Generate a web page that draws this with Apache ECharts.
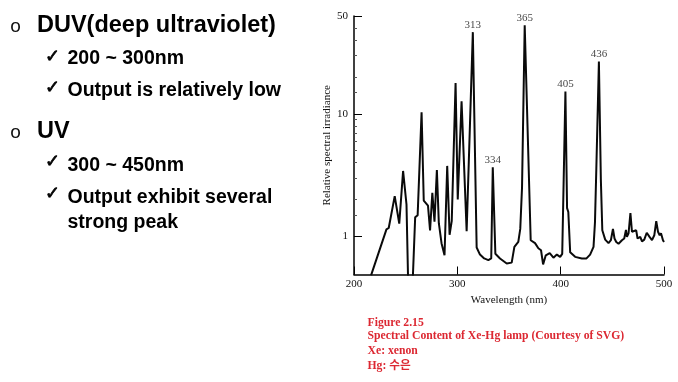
<!DOCTYPE html>
<html><head><meta charset="utf-8">
<script src="https://cdn.jsdelivr.net/npm/echarts@6/dist/echarts.min.js"></script>
<style>html,body{margin:0;padding:0;background:#fff}#c{width:678px;height:382px}</style>
</head><body><div id="c"></div>
<script>
// Spectrum of Xe-Hg lamp
const wavelengths = [216.5, 231.4, 233.6, 239.4, 243.8, 247.5, 250.8, 252.6, 256.4, 259.2, 261.6, 265.4, 267.5, 271.6, 273.6, 275.8, 277.9, 280.2, 282.1, 284.7, 287.6, 290.2, 292.5, 294.6, 298.3, 300.4, 304.1, 309.0, 315.0, 318.7, 321.9, 326.0, 330.0, 332.8, 334.3, 336.8, 341.3, 347.8, 352.6, 355.2, 359.0, 360.9, 362.6, 365.2, 371.0, 375.2, 378.4, 381.0, 383.0, 385.6, 389.4, 393.0, 396.3, 399.5, 401.5, 404.6, 406.2, 407.4, 409.2, 414.0, 420.5, 425.0, 428.5, 431.8, 433.2, 434.4, 437.0, 438.9, 440.3, 443.1, 446.3, 448.6, 450.6, 452.1, 453.8, 456.0, 459.3, 461.5, 463.2, 464.1, 465.7, 467.5, 469.0, 470.5, 473.1, 474.4, 477.0, 478.7, 480.9, 483.3, 486.0, 488.4, 490.6, 492.5, 494.2, 495.8, 497.1, 499.0, 500.0];
const irradiance  = [0.48, 1.14, 1.17, 2.13, 1.27, 3.42, 1.82, 0.35, 0.35, 1.43, 1.49, 10.3, 1.96, 1.78, 1.12, 2.27, 1.32, 3.48, 1.28, 0.88, 0.70, 3.76, 1.03, 1.34, 17.9, 2.0, 12.7, 1.10, 46.5, 0.81, 0.71, 0.66, 0.64, 0.66, 3.66, 0.72, 0.66, 0.60, 0.61, 0.82, 0.90, 1.15, 2.5, 53.0, 0.93, 0.88, 0.80, 0.77, 0.59, 0.70, 0.73, 0.67, 0.71, 0.68, 0.72, 15.2, 1.70, 1.58, 0.74, 0.68, 0.66, 0.66, 0.71, 0.82, 1.3, 3.27, 26.8, 2.9, 1.12, 0.94, 0.88, 0.93, 1.15, 0.96, 0.90, 0.87, 0.93, 0.96, 1.13, 0.99, 1.06, 1.55, 1.09, 1.06, 1.12, 0.96, 0.99, 0.91, 0.94, 1.07, 0.99, 0.93, 1.02, 1.33, 1.09, 1.02, 1.06, 0.93, 0.90];

const peakWavelengths = [315.0, 334.3, 365.2, 404.6, 437.0];
const peakValues = [46.5, 3.66, 53.0, 15.2, 26.8];
const peakLabels = ['313', '334', '365', '405', '436'];

const xMin = 200, xMax = 500, xStep = 100;
const yMin = 0.488, yMax = 63;
const yMajorTicks = [1, 10, 63];
const yMajorLabels = ['1', '10', '50'];
const yMinorTicks = [1.5, 2, 3, 4, 5, 6, 7, 8, 9, 15, 20, 30, 40, 50];

const xName = 'Wavelength (nm)';
const yName = 'Relative spectral irradiance';

const bulletItems = ['DUV(deep ultraviolet)', 'UV'];
const subItems = ['200 ~ 300nm', 'Output is relatively low', '300 ~ 450nm', 'Output exhibit several', 'strong peak'];
const captionLines = ['Figure 2.15', 'Spectral Content of Xe-Hg lamp (Courtesy of SVG)', 'Xe: xenon', 'Hg: 수은'];

const serif = '"Liberation Serif", "Times New Roman", serif';
const sans = '"Liberation Sans", Arial, sans-serif';

const chart = echarts.init(document.getElementById('c'), null, {renderer: 'canvas'});

function majorLabel(v) {
  for (let i = 0; i < yMajorTicks.length; i++) {
    if (Math.abs(Math.log10(v) - Math.log10(yMajorTicks[i])) < 0.01) return yMajorLabels[i];
  }
  return '';
}

const graphics = [];
// slide bullets
const bulletY = [26.5, 132.5];
const titleY = [26, 132];
bulletItems.forEach((t, i) => {
  graphics.push({type: 'text', x: 15.5, y: bulletY[i], style: {text: 'o', font: '19px ' + sans, fill: '#111', align: 'center', verticalAlign: 'middle'}});
  graphics.push({type: 'text', x: 37, y: titleY[i], style: {text: t, font: 'bold 23.5px ' + sans, fill: '#000', align: 'left', verticalAlign: 'middle'}});
});
const subY = [59, 90.7, 165.7, 197.3, 222.3];
const checkY = [57.5, 88.5, 162, 194, null];
subItems.forEach((t, i) => {
  if (checkY[i] !== null) {
    graphics.push({type: 'text', x: 52.5, y: checkY[i], style: {text: '✓', font: '18px "DejaVu Sans", sans-serif', fill: '#000', stroke: '#000', lineWidth: 0.7, align: 'center', verticalAlign: 'middle'}});
  }
  graphics.push({type: 'text', x: 67.5, y: subY[i], style: {text: t, font: 'bold 19.5px ' + sans, fill: '#000', align: 'left', verticalAlign: 'middle'}});
});
const capY = [322.5, 336, 351, 366];
captionLines.forEach((t, i) => {
  graphics.push({type: 'text', x: 367.5, y: capY[i], style: {text: t, font: 'bold 11.7px ' + serif + ', "Noto Sans CJK KR"', fill: '#dc2832', align: 'left', verticalAlign: 'middle'}});
});

const option = {
  backgroundColor: '#fff',
  animation: false,
  grid: {left: 354, right: 14, top: 16, bottom: 107.5, containLabel: false},
  xAxis: {
    type: 'value', min: xMin, max: xMax, interval: xStep,
    name: xName, nameLocation: 'middle', nameGap: 17,
    nameTextStyle: {fontFamily: serif, fontSize: 11, color: '#111'},
    axisLine: {lineStyle: {color: '#000', width: 1.5}},
    axisTick: {inside: true, length: 8, lineStyle: {color: '#000', width: 1}},
    axisLabel: {margin: 4, fontFamily: serif, fontSize: 11, color: '#111'},
    splitLine: {show: false}
  },
  yAxis: [{
    type: 'log', min: yMin, max: yMax, logBase: 10,
    name: yName, nameLocation: 'middle', nameGap: 17, nameRotate: 90,
    nameTextStyle: {fontFamily: serif, fontSize: 11, color: '#111'},
    axisLine: {show: true, lineStyle: {color: '#000', width: 1.5}},
    axisTick: {show: true, inside: true, length: 8, customValues: yMajorTicks, lineStyle: {color: '#000', width: 1}},
    axisLabel: {margin: 6, fontFamily: serif, fontSize: 11, color: '#111', customValues: yMajorTicks, formatter: majorLabel},
    splitLine: {show: false}
  }, {
    type: 'log', min: yMin, max: yMax, logBase: 10, position: 'left',
    axisLine: {show: false},
    axisTick: {show: true, inside: true, length: 3, customValues: yMinorTicks, lineStyle: {color: '#555', width: 1}},
    axisLabel: {show: false},
    splitLine: {show: false}
  }],
  series: [{
    type: 'line',
    data: wavelengths.map((w, i) => [w, irradiance[i]]),
    showSymbol: false, symbol: 'none',
    lineStyle: {color: '#0a0a0a', width: 2},
    clip: true,
    z: 3
  }, {
    type: 'scatter',
    data: peakWavelengths.map((w, i) => [w, peakValues[i]]),
    symbolSize: 0,
    label: {show: true, position: 'top', distance: 2, fontFamily: serif, fontSize: 11, color: '#111',
      formatter: p => peakLabels[p.dataIndex]},
    z: 4
  }],
  graphic: graphics
};
chart.setOption(option);
</script>
</body></html>
